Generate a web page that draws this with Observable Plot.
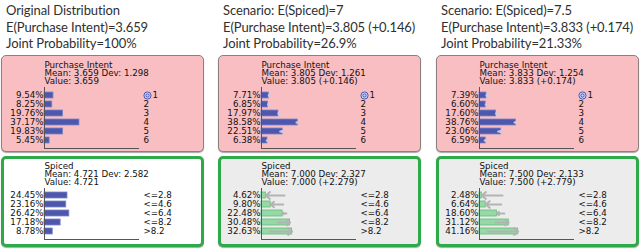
<!DOCTYPE html>
<html>
<head>
<meta charset="utf-8">
<script src="https://cdn.jsdelivr.net/npm/d3@7"></script>
<script src="https://cdn.jsdelivr.net/npm/@observablehq/plot@0.6"></script>
<style>
  html, body { margin: 0; padding: 0; background: #ffffff; }
  #chart { position: relative; width: 640px; height: 249px; overflow: hidden; font-family: "DejaVu Sans", sans-serif; }
  .title { position: absolute; font-family: "Lato", "Open Sans", sans-serif; font-size: 13px; letter-spacing: -0.1px; line-height: 16.5px; color: #303030; white-space: nowrap; }
  .box { position: absolute; box-sizing: border-box; border-radius: 5px; }
  .pi { background: #f8bec2; border: 1px solid #8c7f80; box-shadow: 0 1px 1px rgba(0,0,0,0.35); }
  .sp { border: 3px solid #2faa4b; box-shadow: 0 1px 1px rgba(0,0,0,0.35); }
  svg.panel { position: absolute; overflow: visible; }
</style>
</head>
<body>
<div id="chart"></div>
<script>
// Purchase Intent states and the Spiced bins
const piStates = ["1", "2", "3", "4", "5", "6"];
const spBins = ["<=2.8", "<=4.6", "<=6.4", "<=8.2", ">8.2"];

// Purchase Intent distribution (%) per scenario
const piOriginal = [9.54, 8.25, 19.76, 37.17, 19.83, 5.45];
const piSpiced7 = [7.71, 6.85, 17.97, 38.58, 22.51, 6.38];
const piSpiced75 = [7.39, 6.60, 17.60, 38.76, 23.06, 6.59];

// Spiced distribution (%) per scenario
const spOriginal = [24.45, 23.16, 26.42, 17.18, 8.78];
const spSpiced7 = [4.62, 9.80, 22.48, 30.48, 32.63];
const spSpiced75 = [2.48, 6.64, 18.60, 31.12, 41.16];

// Column headings
const titles = [
  ["Original Distribution", "E(Purchase Intent)=3.659", "Joint Probability=100%"],
  ["Scenario: E(Spiced)=7", "E(Purchase Intent)=3.805 (+0.146)", "Joint Probability=26.9%"],
  ["Scenario: E(Spiced)=7.5", "E(Purchase Intent)=3.833 (+0.174)", "Joint Probability=21.33%"]
];

// Monitor headers
const piHeads = [
  ["Purchase Intent", "Mean: 3.659 Dev: 1.298", "Value: 3.659"],
  ["Purchase Intent", "Mean: 3.805 Dev: 1.261", "Value: 3.805 (+0.146)"],
  ["Purchase Intent", "Mean: 3.833 Dev: 1.254", "Value: 3.833 (+0.174)"]
];
const spHeads = [
  ["Spiced", "Mean: 4.721 Dev: 2.582", "Value: 4.721"],
  ["Spiced", "Mean: 7.000 Dev: 2.327", "Value: 7.000 (+2.279)"],
  ["Spiced", "Mean: 7.500 Dev: 2.133", "Value: 7.500 (+2.779)"]
];

const piSeries = [piOriginal, piSpiced7, piSpiced75];
const spSeries = [spOriginal, spSpiced7, spSpiced75];

const chart = document.getElementById("chart");
const colX = [0, 217, 435];
const BOX_W = 203;
const PI_TOP = 55, PI_H = 97;
const SP_TOP = 156, SP_H = 91;

function el(cls, left, top, width, height) {
  const d = document.createElement("div");
  d.className = cls;
  d.style.left = left + "px";
  d.style.top = top + "px";
  if (width != null) d.style.width = width + "px";
  if (height != null) d.style.height = height + "px";
  chart.appendChild(d);
  return d;
}

// One monitor: header, bars, percentages, state labels, change arrows
function monitor({head, states, values, base, barFill, barStroke, arrowStroke, target, height, bottom}) {
  const data = states.map((s, i) => ({
    state: s,
    value: values[i],
    base: base ? base[i] : null,
    label: values[i].toFixed(2) + "%"
  }));
  const marks = [
    Plot.text([head.join("\n")], {text: d => d, frameAnchor: "top-left", textAnchor: "start", lineAnchor: "top", lineHeight: 0.92, dy: -25, fill: "#111"}),
    Plot.barX(data, {x: "value", y: "state", fill: barFill, stroke: barStroke, strokeWidth: 0.8}),
    Plot.text(data, {y: "state", text: "label", frameAnchor: "left", textAnchor: "end", dx: -1, fill: "#111"}),
    Plot.text(data.filter(d => !(target && d.state === target)), {y: "state", text: "state", frameAnchor: "right", textAnchor: "start", dx: 5, fill: "#111"}),
    Plot.frame({anchor: "left", stroke: "#555"}),
    Plot.frame({anchor: "bottom", stroke: "#555"})
  ];
  if (base) {
    marks.push(Plot.arrow(data, {x1: "base", x2: "value", y: "state", stroke: arrowStroke, strokeWidth: 2, headLength: 4, headAngle: 80}));
  }
  if (target) {
    const t = data.filter(d => d.state === target);
    marks.push(
      Plot.dot(t, {y: "state", frameAnchor: "right", dx: 9, r: 3.6, fill: "#cdd3f2", stroke: "#4a58b8", strokeWidth: 1}),
      Plot.dot(t, {y: "state", frameAnchor: "right", dx: 9, r: 1.6, fill: "none", stroke: "#4a58b8", strokeWidth: 1}),
      Plot.text(t, {y: "state", text: "state", frameAnchor: "right", textAnchor: "start", dx: 14, fill: "#111"})
    );
  }
  const svg = Plot.plot({
    width: BOX_W,
    height,
    marginLeft: 43,
    marginRight: 66,
    marginTop: 32,
    marginBottom: bottom,
    x: {domain: [0, 100], axis: null},
    y: {type: "band", domain: states, padding: 0.28, axis: null},
    style: {fontFamily: "'DejaVu Sans', sans-serif", fontSize: "8.7px", background: "transparent", overflow: "visible"},
    marks
  });
  svg.classList.add("panel");
  return svg;
}

titles.forEach((t, c) => {
  const x0 = colX[c];
  const title = el("title", x0 + 6, 2);
  title.innerHTML = t.map(s => `<div>${s}</div>`).join("");

  // Purchase Intent monitor
  el("box pi", x0 + 1, PI_TOP, BOX_W, PI_H);
  const s1 = monitor({
    head: piHeads[c], states: piStates, values: piSeries[c], base: c ? piOriginal : null,
    barFill: "#4d58ad", barStroke: "#7b84c8", arrowStroke: "#c9cde8", target: "1", height: PI_H, bottom: 4
  });
  s1.style.left = (x0 + 1) + "px";
  s1.style.top = PI_TOP + "px";
  chart.appendChild(s1);

  // Spiced monitor
  const b = el("box sp", x0 + 1, SP_TOP, BOX_W, SP_H);
  b.style.background = c ? "#ececec" : "#ffffff";
  const s2 = monitor({
    head: spHeads[c], states: spBins, values: spSeries[c], base: c ? spOriginal : null,
    barFill: c ? "#98d7a6" : "#4d58ad", barStroke: c ? "#62bf7a" : "#7b84c8", arrowStroke: "#b3b3b3", target: null, height: SP_H, bottom: 8
  });
  s2.style.left = (x0 + 1) + "px";
  s2.style.top = SP_TOP + "px";
  chart.appendChild(s2);
});
</script>
</body>
</html>
